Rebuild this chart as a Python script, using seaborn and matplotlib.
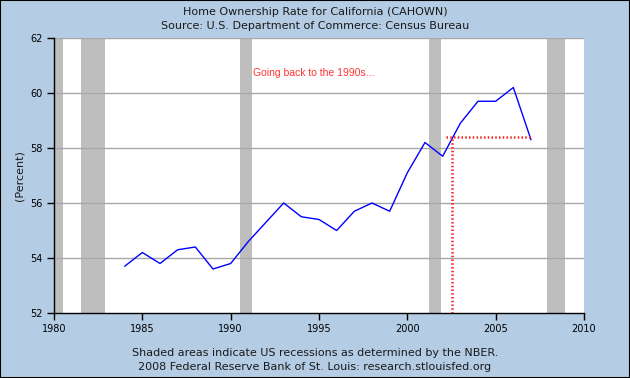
import numpy as np
import pandas as pd
import matplotlib
matplotlib.use('Agg')
import matplotlib.pyplot as plt
import seaborn as sns

# data
years = list(range(1984, 2008))
rate = [53.7, 54.2, 53.8, 54.3, 54.4, 53.6, 53.8, 54.6, 55.3, 56.0, 55.5, 55.4,
        55.0, 55.7, 56.0, 55.7, 57.1, 58.2, 57.7, 58.9, 59.7, 59.7, 60.2, 58.3]
recessions = [(1980.0, 1980.5), (1981.5, 1982.9), (1990.5, 1991.2),
              (2001.2, 2001.9), (2007.9, 2008.9)]
ref_level = 58.4
ref_year = 2002.55
y_ticks = [52, 54, 56, 58, 60, 62]
x_ticks = [1980, 1985, 1990, 1995, 2000, 2005, 2010]

df = pd.DataFrame({'year': years, 'rate': rate})

sns.set_style('white')
plt.rcParams['font.family'] = ['DejaVu Sans']
plt.rcParams['text.color'] = '#1a1a1a'
bg = '#b4cce4'

fig = plt.figure(figsize=(6.3, 3.78), dpi=100, facecolor=bg)
ax = fig.add_axes([54 / 630, 1 - 313 / 378, 530 / 630, 275 / 378])
ax.set_facecolor('white')

for a, b in recessions:
    ax.axvspan(a, b, color='#bebebe', lw=0, zorder=1)

for yv in y_ticks[1:]:
    ax.axhline(yv, color='#a8a8a8', lw=1, zorder=2)

sns.lineplot(data=df, x='year', y='rate', color='#0000ff', lw=1, ax=ax, zorder=4)

# red dotted guide lines
ax.plot([2002.2, 2007.0], [ref_level, ref_level], color='#ff2020', lw=1.8,
        ls=(0, (0.6, 0.9)), zorder=5)
ax.plot([ref_year, ref_year], [52, ref_level], color='#ff2020', lw=1.8,
        ls=(0, (0.6, 0.9)), zorder=5)
ax.text(1991.25, 60.72, 'Going back to the 1990s...', color='#ff3333',
        fontsize=7.5, family=['Liberation Sans'], va='center', ha='left', zorder=6)

ax.set_xlim(1980, 2010)
ax.set_ylim(52, 62)
ax.set_xticks(x_ticks)
ax.set_yticks(y_ticks)
ax.tick_params(labelsize=7, length=5, width=1, colors='black', direction='out',
               left=True, bottom=True, pad=3)
ax.set_xlabel('')
ax.set_ylabel('(Percent)', fontsize=8, labelpad=4, color='#1a1a1a')
for s in ['top', 'right']:
    ax.spines[s].set_visible(False)
for s in ['left', 'bottom']:
    ax.spines[s].set_color('black')
    ax.spines[s].set_linewidth(1)

fig.text(0.5, 1 - 12 / 378, 'Home Ownership Rate for California (CAHOWN)',
         ha='center', va='center', fontsize=8)
fig.text(0.5, 1 - 26 / 378, 'Source: U.S. Department of Commerce: Census Bureau',
         ha='center', va='center', fontsize=8)
fig.text(0.5, 1 - 353 / 378, 'Shaded areas indicate US recessions as determined by the NBER.',
         ha='center', va='center', fontsize=8)
fig.text(0.5, 1 - 367 / 378, '2008 Federal Reserve Bank of St. Louis: research.stlouisfed.org',
         ha='center', va='center', fontsize=8)

fig.patches.append(plt.Rectangle((0, 0), 1, 1, transform=fig.transFigure,
                                 fill=False, ec='black', lw=1.5))

fig.savefig('out.png', dpi=100, facecolor=bg)
